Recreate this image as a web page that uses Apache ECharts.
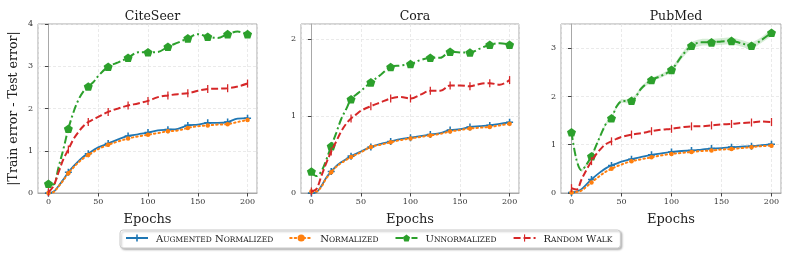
<!DOCTYPE html>
<html>
<head>
<meta charset="utf-8">
<script src="https://cdn.jsdelivr.net/npm/echarts@6/dist/echarts.min.js"></script>
<style>
html,body{margin:0;padding:0;background:#fff;}
#chart{width:789px;height:258px;}
</style>
</head>
<body>
<div id="chart"></div>
<script>
// ---------------- DATA ----------------
const EPOCHS = [0,5,10,15,20,25,30,35,40,45,50,60,70,80,90,100,110,120,130,140,150,160,170,180,190,200];
const DATASETS = ['CiteSeer', 'Cora', 'PubMed'];
const METHODS = ['Augmented Normalized', 'Normalized', 'Unnormalized', 'Random Walk'];

const CITESEER_AUG   = [0,0.03,0.16,0.32,0.49,0.63,0.75,0.86,0.93,1.01,1.08,1.17,1.27,1.35,1.39,1.43,1.48,1.5,1.52,1.6,1.62,1.66,1.66,1.68,1.76,1.77];
const CITESEER_NORM  = [0,0.02,0.15,0.3,0.47,0.6,0.72,0.82,0.9,0.97,1.04,1.14,1.22,1.29,1.34,1.38,1.42,1.46,1.48,1.54,1.58,1.6,1.62,1.63,1.68,1.73];
const CITESEER_UNNORM= [0.22,0.2,0.6,1.04,1.52,1.9,2.2,2.4,2.52,2.62,2.77,2.99,3.09,3.2,3.33,3.33,3.34,3.46,3.56,3.66,3.76,3.7,3.67,3.76,3.82,3.76];
const CITESEER_RW    = [0.02,0.16,0.48,0.8,1.03,1.27,1.44,1.58,1.68,1.74,1.8,1.92,2.0,2.07,2.12,2.18,2.27,2.31,2.34,2.36,2.42,2.46,2.47,2.48,2.52,2.59];

const CORA_AUG    = [0,0.01,0.09,0.2,0.28,0.35,0.4,0.44,0.48,0.51,0.54,0.6,0.64,0.67,0.7,0.72,0.74,0.76,0.78,0.82,0.83,0.86,0.87,0.88,0.9,0.92];
const CORA_NORM   = [0.02,0.02,0.08,0.19,0.27,0.34,0.39,0.43,0.47,0.5,0.53,0.6,0.63,0.66,0.69,0.71,0.73,0.75,0.77,0.8,0.82,0.84,0.85,0.86,0.88,0.9];
const CORA_UNNORM = [0.28,0.22,0.28,0.43,0.61,0.78,0.96,1.09,1.22,1.28,1.33,1.44,1.54,1.64,1.66,1.68,1.73,1.76,1.76,1.84,1.83,1.83,1.88,1.93,1.95,1.93];
const CORA_RW     = [0.02,0.05,0.22,0.39,0.54,0.67,0.8,0.9,0.97,1.02,1.07,1.13,1.18,1.23,1.25,1.23,1.28,1.33,1.33,1.4,1.4,1.39,1.42,1.43,1.41,1.47];

const PUBMED_AUG    = [0.01,0.03,0.08,0.18,0.28,0.37,0.45,0.52,0.57,0.61,0.65,0.7,0.75,0.79,0.82,0.85,0.87,0.88,0.9,0.92,0.93,0.95,0.96,0.97,0.99,1.01];
const PUBMED_NORM   = [0.01,0.02,0.05,0.13,0.22,0.3,0.38,0.45,0.5,0.55,0.59,0.66,0.7,0.74,0.78,0.81,0.83,0.85,0.87,0.88,0.9,0.91,0.93,0.95,0.97,0.98];
const PUBMED_UNNORM = [1.26,0.69,0.47,0.59,0.76,1.0,1.24,1.45,1.55,1.79,1.9,1.91,2.17,2.34,2.43,2.55,2.83,3.05,3.12,3.12,3.14,3.15,3.1,3.05,3.17,3.32];
const PUBMED_RW     = [0.1,0.07,0.28,0.48,0.66,0.81,0.93,1.02,1.07,1.12,1.16,1.21,1.24,1.28,1.31,1.33,1.36,1.38,1.38,1.4,1.42,1.43,1.45,1.46,1.48,1.47];
// half-width of the shaded std band around PubMed / Unnormalized
const PUBMED_UNNORM_STD = [0.03,0.03,0.03,0.03,0.03,0.03,0.03,0.03,0.03,0.04,0.04,0.04,0.04,0.04,0.04,0.05,0.06,0.07,0.07,0.07,0.07,0.07,0.07,0.07,0.06,0.06];

const Y_MAX = [4, 2.2, 3.5];

const VALUES = [
  [CITESEER_AUG, CITESEER_NORM, CITESEER_UNNORM, CITESEER_RW],
  [CORA_AUG, CORA_NORM, CORA_UNNORM, CORA_RW],
  [PUBMED_AUG, PUBMED_NORM, PUBMED_UNNORM, PUBMED_RW]
];

// ---------------- STYLE ----------------
const FONT = 'DejaVu Serif';
const COLORS = ['#1f77b4', '#ff7f0e', '#2ca02c', '#d62728'];
const PLUS = 'path://M3.5,0h2v3.5h3.5v2h-3.5v3.5h-2v-3.5h-3.5v-2h3.5z';
const PENT = 'path://M5,0L10,3.63L8.09,9.51L1.91,9.51L0,3.63Z';
const VBAR = 'path://M0,0M10,10M4.2,0h1.6v10h-1.6z';
const STYLES = [
  {symbol: PLUS, size: 7, line: {width: 1.8, type: 'solid'}},
  {symbol: 'circle', size: 4.5, line: {width: 2, type: [1.5, 3], cap: 'round'}},
  {symbol: PENT, size: 9, line: {width: 2, type: [8, 3, 2, 3]}},
  {symbol: VBAR, size: 8, line: {width: 2, type: [7, 3]}}
];
const GRIDS = [
  {left: 38, top: 24, width: 219, height: 169},
  {left: 301, top: 24, width: 218, height: 169},
  {left: 561, top: 24, width: 220, height: 169}
];

const chart = echarts.init(document.getElementById('chart'), null, {renderer: 'canvas'});

const grid = GRIDS.map(g => Object.assign({show: true, borderColor: '#a8a8a8', borderWidth: 1, backgroundColor: 'transparent'}, g));

const xAxis = DATASETS.map((d, i) => ({
  type: 'value', gridIndex: i, min: -10.5, max: 209.5, splitNumber: 5,
  name: 'Epochs', nameLocation: 'middle', nameGap: 20,
  nameTextStyle: {fontFamily: FONT, fontSize: 13, color: '#222'},
  axisLine: {show: true, lineStyle: {color: '#a8a8a8', width: 1}},
  axisTick: {show: true, length: 3.5, lineStyle: {color: '#444'}},
  axisLabel: {fontFamily: FONT, fontSize: 8, color: '#333', margin: 5, showMinLabel: false, showMaxLabel: false},
  splitLine: {show: true, lineStyle: {color: '#e4e4e4', type: [3, 2], width: 0.8}}
}));

const yAxis = DATASETS.map((d, i) => ({
  type: 'value', gridIndex: i, min: 0, max: Y_MAX[i], interval: 1,
  name: i === 0 ? '|Train error - Test error|' : '',
  nameLocation: 'middle', nameGap: 18,
  nameTextStyle: {fontFamily: FONT, fontSize: 12.5, color: '#222'},
  axisLine: {show: true, lineStyle: {color: '#a8a8a8', width: 1}},
  axisTick: {show: true, length: 3.5, lineStyle: {color: '#444'}},
  axisLabel: {fontFamily: FONT, fontSize: 8, color: '#333', margin: 5, showMaxLabel: Y_MAX[i] % 1 === 0},
  splitLine: {show: true, lineStyle: {color: '#e4e4e4', type: [3, 2], width: 0.8}}
}));

const title = DATASETS.map((d, i) => ({
  text: d, left: GRIDS[i].left + GRIDS[i].width / 2, top: 5, textAlign: 'center',
  textStyle: {fontFamily: FONT, fontSize: 12.5, fontWeight: 'normal', color: '#1a1a1a'}
}));

const series = [];
// shaded std band for PubMed Unnormalized, drawn through the axis scales
series.push({
  type: 'custom', xAxisIndex: 2, yAxisIndex: 2, silent: true, z: 1,
  data: [[0, 0]],
  renderItem: (params, api) => {
    const pts = [];
    EPOCHS.forEach((e, k) => pts.push(api.coord([e, PUBMED_UNNORM[k] + PUBMED_UNNORM_STD[k]])));
    for (let k = EPOCHS.length - 1; k >= 0; k--) pts.push(api.coord([EPOCHS[k], PUBMED_UNNORM[k] - PUBMED_UNNORM_STD[k]]));
    return {type: 'polygon', shape: {points: pts, smooth: 0.25}, style: {fill: 'rgba(44,160,44,0.2)'}};
  }
});

DATASETS.forEach((d, i) => {
  METHODS.forEach((m, j) => {
    const st = STYLES[j];
    series.push({
      name: m, type: 'line', xAxisIndex: i, yAxisIndex: i,
      smooth: 0.35, showAllSymbol: true,
      symbol: st.symbol, symbolSize: st.size, symbolKeepAspect: true,
      color: COLORS[j],
      itemStyle: {color: COLORS[j]},
      lineStyle: Object.assign({color: COLORS[j]}, st.line),
      z: 2 + j,
      data: EPOCHS.map((e, k) => {
        const item = {value: [e, VALUES[i][j][k]]};
        if (e % 20 !== 0) item.symbol = 'none';
        return item;
      })
    });
  });
});

const smallCaps = name => name.split(' ').map(w => '{c|' + w[0] + '}{s|' + w.slice(1).toUpperCase() + '}').join('{c| }');

const option = {
  animation: false,
  backgroundColor: '#fff',
  title: title,
  grid: grid,
  xAxis: xAxis,
  yAxis: yAxis,
  legend: {
    data: METHODS,
    left: 120, top: 230,
    padding: [4, 8, 4, 5],
    itemWidth: 22, itemHeight: 9, itemGap: 16,
    backgroundColor: '#fff',
    borderColor: '#cccccc', borderWidth: 1, borderRadius: 3,
    shadowColor: 'rgba(0,0,0,0.25)', shadowBlur: 2, shadowOffsetX: 1.5, shadowOffsetY: 1.5,
    formatter: smallCaps,
    textStyle: {
      fontFamily: FONT, color: '#222', padding: [0, 0, 0, 3],
      rich: {
        c: {fontFamily: FONT, fontSize: 10, color: '#222', lineHeight: 12, verticalAlign: 'bottom'},
        s: {fontFamily: FONT, fontSize: 7.5, color: '#222', lineHeight: 10.2, verticalAlign: 'bottom'}
      }
    }
  },
  series: series
};
chart.setOption(option);
</script>
</body>
</html>
